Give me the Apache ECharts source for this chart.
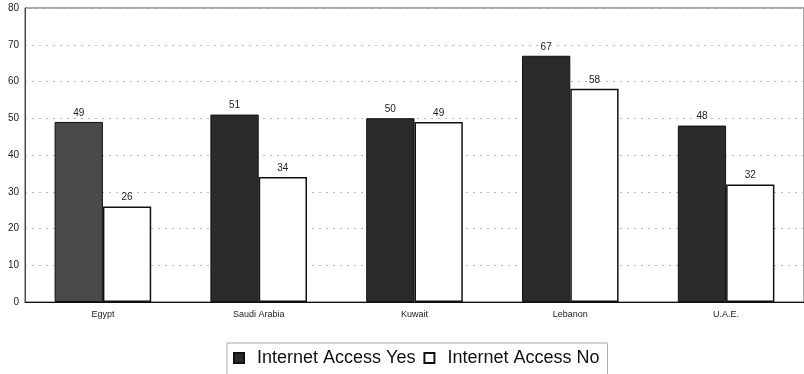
<!DOCTYPE html>
<html>
<head>
<meta charset="utf-8">
<script src="https://cdn.jsdelivr.net/npm/echarts@6/dist/echarts.min.js"></script>
<style>
  html, body { margin: 0; padding: 0; background: #fff; }
  #chart { width: 804px; height: 374px; }
</style>
</head>
<body>
<div id="chart"></div>
<script>
// data
const countries = ['Egypt', 'Saudi Arabia', 'Kuwait', 'Lebanon', 'U.A.E.']
const accessYes = [49, 51, 50, 67, 48]
const accessNo = [26, 34, 49, 58, 32]
const yTicks = [0, 10, 20, 30, 40, 50, 60, 70, 80]

const chart = echarts.init(document.getElementById('chart'))

const labelStyle = { show: true, position: 'top', color: '#222', fontSize: 10, fontFamily: 'Liberation Sans', distance: 4 }

chart.setOption({
  animation: false,
  textStyle: { fontFamily: 'Liberation Sans' },
  grid: { left: 25, right: 0, top: 8, bottom: 72, show: true, borderColor: '#555', borderWidth: 1 },
  legend: {
    top: 343,
    left: 227,
    icon: 'rect',
    itemWidth: 10,
    itemHeight: 10,
    itemGap: 8,
    padding: [6, 8, 8, 6],
    borderColor: '#aaa',
    borderWidth: 1,
    textStyle: { fontSize: 18, color: '#111', fontFamily: 'Liberation Sans', padding: [0, 0, 0, 8] },
    data: ['Internet Access Yes', 'Internet Access No']
  },
  xAxis: {
    type: 'category',
    data: countries,
    axisTick: { show: false },
    axisLine: { lineStyle: { color: '#111', width: 1 } },
    axisLabel: { color: '#222', fontSize: 9, margin: 8 }
  },
  yAxis: {
    type: 'value',
    min: yTicks[0],
    max: yTicks[yTicks.length - 1],
    interval: 10,
    axisLine: { show: true, lineStyle: { color: '#444' } },
    axisTick: { show: false },
    axisLabel: { color: '#222', fontSize: 10, margin: 6 },
    splitLine: { lineStyle: { color: '#bbb', type: [2, 5] } }
  },
  series: [
    {
      name: 'Internet Access Yes',
      type: 'bar',
      data: accessYes.map((v, i) => i === 0 ? { value: v, itemStyle: { color: '#4a4a4a' } } : v),
      barGap: '0%',
      barCategoryGap: '38%',
      itemStyle: { color: '#2b2b2b', borderColor: '#111', borderWidth: 1 },
      label: labelStyle
    },
    {
      name: 'Internet Access No',
      type: 'bar',
      data: accessNo,
      itemStyle: { color: '#fff', borderColor: '#111', borderWidth: 1.5 },
      label: labelStyle
    }
  ]
})
</script>
</body>
</html>
